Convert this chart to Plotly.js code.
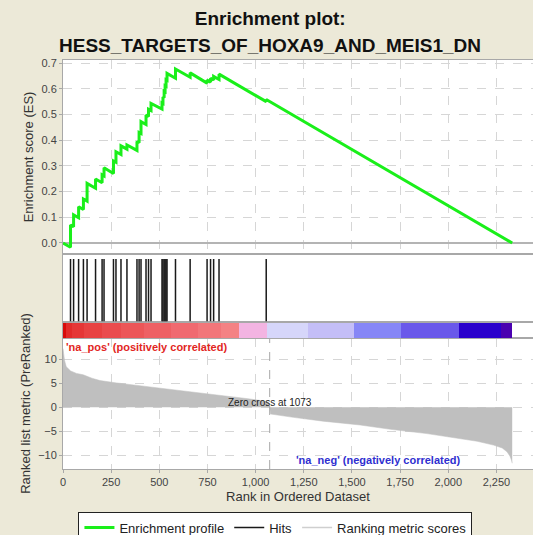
<!DOCTYPE html>
<html>
<head>
<meta charset="utf-8">
<script src="https://cdn.plot.ly/plotly-3.0.1.min.js"></script>
<style>
  html, body { margin: 0; padding: 0; background: #ece9d8; }
  #chart { width: 533px; height: 535px; }
</style>
</head>
<body>
<div id="chart"></div>
<script>
// Running enrichment score: value just before and just after each hit
const esRank = [0, 39, 39, 55, 55, 81, 81, 106, 106, 125, 125, 169, 169, 203, 203, 213, 213,
  262, 262, 275, 275, 301, 301, 332, 332, 384, 384, 395, 395, 405, 405, 431, 431, 444, 444,
  457, 457, 514, 514, 519, 519, 525, 525, 530, 530, 535, 535, 540, 540, 584, 584, 660, 660,
  748, 748, 766, 766, 782, 782, 810, 810, 1055, 1055, 2332];
const esScore = [0, -0.017, 0.070, 0.063, 0.109, 0.098, 0.141, 0.130, 0.171, 0.163, 0.232,
  0.213, 0.249, 0.234, 0.265, 0.261, 0.293, 0.270, 0.319, 0.314, 0.355, 0.344, 0.378, 0.365,
  0.381, 0.360, 0.395, 0.390, 0.430, 0.426, 0.472, 0.461, 0.498, 0.492, 0.520, 0.515, 0.543,
  0.521, 0.545, 0.543, 0.568, 0.565, 0.590, 0.588, 0.612, 0.610, 0.635, 0.633, 0.660, 0.641,
  0.677, 0.645, 0.662, 0.622, 0.634, 0.626, 0.641, 0.634, 0.648, 0.636, 0.657, 0.550, 0.558, 0.0];

// Positions of gene-set members in the ranked list
const hitRanks = [39, 55, 81, 106, 125, 169, 203, 213, 262, 275, 301, 332, 384, 395, 405, 431,
  444, 457, 514, 519, 525, 530, 535, 540, 584, 660, 748, 766, 782, 810, 1055];

// Ranked list metric along the ordered dataset
const metricRank = [0, 3, 8, 17, 40, 70, 105, 150, 192, 279, 363, 450, 539, 620, 712, 800,
  883, 960, 1030, 1065, 1073, 1078, 1196, 1350, 1543, 1700, 1889, 2062, 2150, 2235, 2280,
  2305, 2320, 2328, 2332];
const metricValue = [12.3, 11.2, 9.8, 8.5, 7.6, 7.1, 6.8, 6.1, 5.6, 5.1, 4.7, 4.2, 3.8, 3.4,
  3.1, 2.6, 2.2, 1.8, 1.4, 1.1, 0.0, -1.4, -2.1, -2.9, -3.7, -4.6, -5.5, -6.5, -7.1, -7.9,
  -8.5, -9.3, -10.2, -11.0, -11.7];

const zeroCross = 1073;

// Correlation colour band: segment boundaries (rank) and colours
const bandEdges = [0, 15, 45, 110, 200, 300, 420, 560, 700, 820, 914, 1060, 1273, 1512, 1756,
  2057, 2275, 2332];
const bandColors = ['#d80a0a', '#e22a2a', '#e53636', '#e84242', '#ea4c4e', '#ec5658', '#ee6064',
  '#f06a70', '#f2767a', '#f48284', '#f3b4e2', '#d6d6fa', '#c4bef7', '#8686f6', '#6a58ea',
  '#2a00cc', '#4a00b0'];

const tickRanks = [0, 250, 500, 750, 1000, 1250, 1500, 1750, 2000, 2250];
const esTicks = [0.0, 0.1, 0.2, 0.3, 0.4, 0.5, 0.6, 0.7];
const metricTicks = [-10, -5, 0, 5, 10];

const titleLine1 = 'Enrichment plot:';
const titleLine2 = 'HESS_TARGETS_OF_HOXA9_AND_MEIS1_DN';

const bandX = [], bandW = [], bandY = [];
for (let i = 0; i < bandColors.length; i++) {
  bandX.push((bandEdges[i] + bandEdges[i + 1]) / 2);
  bandW.push(bandEdges[i + 1] - bandEdges[i]);
  bandY.push(1);
}

const hitX = [], hitY = [];
hitRanks.forEach(r => { hitX.push(r, r, null); hitY.push(0, 0.926, null); });

const FONT = 'Liberation Sans, Arial, sans-serif';
const GRID = '#d6d6d6';
const FRAME = '#a8a8a8';

const traces = [
  {
    type: 'bar', x: bandX, y: bandY, width: bandW, base: 0,
    marker: { color: bandColors, line: { width: 0 } },
    xaxis: 'x2', yaxis: 'y2', showlegend: false, hoverinfo: 'skip'
  },
  {
    type: 'scatter', mode: 'lines', x: metricRank, y: metricValue,
    fill: 'tozeroy', fillcolor: '#bfbfbf', line: { color: '#bfbfbf', width: 0.5 },
    xaxis: 'x', yaxis: 'y', showlegend: false, hoverinfo: 'skip'
  },
  {
    type: 'scatter', mode: 'lines', x: esRank, y: esScore, name: 'Enrichment profile',
    line: { color: '#1aef1a', width: 3 }, xaxis: 'x4', yaxis: 'y4'
  },
  {
    type: 'scatter', mode: 'lines', x: hitX, y: hitY, name: 'Hits',
    line: { color: '#1a1a1a', width: 1.5 }, xaxis: 'x3', yaxis: 'y3'
  },
  {
    type: 'scatter', mode: 'lines', x: [null], y: [null], name: 'Ranking metric scores',
    line: { color: '#cfcfcf', width: 1.5 }, xaxis: 'x', yaxis: 'y'
  }
];

const plainX = {
  matches: 'x', showticklabels: false, showgrid: false, zeroline: false,
  showline: true, mirror: true, linecolor: FRAME, ticks: ''
};
const plainY = {
  range: [0, 1], showticklabels: false, showgrid: false, zeroline: false,
  showline: true, mirror: true, linecolor: FRAME, ticks: '', fixedrange: true
};

const layout = {
  width: 533, height: 535,
  paper_bgcolor: '#ece9d8', plot_bgcolor: '#ffffff',
  margin: { l: 63, r: 0, t: 60, b: 66, autoexpand: false },
  font: { family: FONT, color: '#333' },
  title: {
    text: '<b>' + titleLine1 + '</b>',
    font: { size: 19, color: '#111', family: FONT },
    xref: 'container', x: 0.507, xanchor: 'center',
    yref: 'container', y: 1 - 18 / 535, yanchor: 'middle'
  },
  bargap: 0,
  showlegend: true,
  legend: {
    orientation: 'h', x: 0.452, xanchor: 'center', y: -0.104, yanchor: 'top',
    bgcolor: '#ffffff', bordercolor: '#222', borderwidth: 1,
    font: { size: 13, color: '#222', family: FONT }, itemwidth: 30
  },
  xaxis: {
    anchor: 'y', domain: [0, 1], range: [0, 2440], tickvals: tickRanks, tickformat: ',d',
    showgrid: true, gridcolor: GRID, griddash: 'dash', zeroline: false,
    showline: true, mirror: true, linecolor: FRAME,
    ticks: 'outside', ticklen: 3, tickcolor: FRAME,
    tickfont: { size: 11, color: '#444' },
    title: { text: 'Rank in Ordered Dataset', font: { size: 13, color: '#333' }, standoff: 4 }
  },
  xaxis2: Object.assign({ anchor: 'y2' }, plainX),
  xaxis3: Object.assign({ anchor: 'y3' }, plainX),
  xaxis4: Object.assign({}, plainX, {
    anchor: 'y4', showgrid: true, gridcolor: GRID, griddash: 'dash', tickvals: tickRanks
  }),
  yaxis: {
    domain: [0, 0.3203], range: [-12.9, 14.5], tickvals: metricTicks,
    showgrid: true, gridcolor: GRID, griddash: 'dash', zeroline: false,
    showline: true, mirror: true, linecolor: FRAME,
    ticks: 'outside', ticklen: 3, tickcolor: FRAME,
    tickfont: { size: 11, color: '#444' },
    title: { text: 'Ranked list metric (PreRanked)', font: { size: 13, color: '#333' }, standoff: 4 }
  },
  yaxis2: Object.assign({ domain: [0.3203, 0.3606] }, plainY),
  yaxis3: Object.assign({ domain: [0.3606, 0.5257] }, plainY),
  yaxis4: {
    domain: [0.5257, 1], range: [-0.043, 0.712], tickvals: esTicks, tickformat: '.1f',
    showgrid: true, gridcolor: GRID, griddash: 'dash',
    zeroline: true, zerolinecolor: '#b4b4b4', zerolinewidth: 2,
    showline: true, mirror: true, linecolor: FRAME,
    ticks: 'outside', ticklen: 3, tickcolor: FRAME,
    tickfont: { size: 11, color: '#444' },
    title: { text: 'Enrichment score (ES)', font: { size: 13, color: '#333' }, standoff: 4 }
  },
  shapes: [
    {
      type: 'line', xref: 'x', yref: 'y domain', x0: zeroCross, x1: zeroCross, y0: 0, y1: 1,
      line: { color: '#a8a8a8', width: 1, dash: 'dash' }, layer: 'above'
    }
  ],
  annotations: [
    {
      xref: 'paper', yref: 'paper', x: (270 - 63) / 470, y: (469 - 45) / 409,
      xanchor: 'center', yanchor: 'middle', showarrow: false,
      text: '<b>' + titleLine2 + '</b>',
      font: { size: 19, color: '#111', family: FONT }
    },
    {
      xref: 'x', yref: 'y', x: zeroCross, y: 0, yshift: 5, xanchor: 'center', yanchor: 'middle',
      text: 'Zero cross at ' + zeroCross, showarrow: false,
      font: { size: 10, color: '#222', family: FONT }
    },
    {
      xref: 'x', yref: 'y domain', x: 0, y: 1, xshift: 1, yshift: -1,
      xanchor: 'left', yanchor: 'top', showarrow: false,
      text: "<b>'na_pos' (positively correlated)</b>",
      font: { size: 11, color: '#e2261e', family: FONT }
    },
    {
      xref: 'x', yref: 'y', x: 1638, y: -11.0, xanchor: 'center', yanchor: 'middle',
      showarrow: false, text: "<b>'na_neg' (negatively correlated)</b>",
      font: { size: 11, color: '#2f2fd0', family: FONT }
    }
  ]
};

Plotly.newPlot('chart', traces, layout, { staticPlot: true, displayModeBar: false });
</script>
</body>
</html>
